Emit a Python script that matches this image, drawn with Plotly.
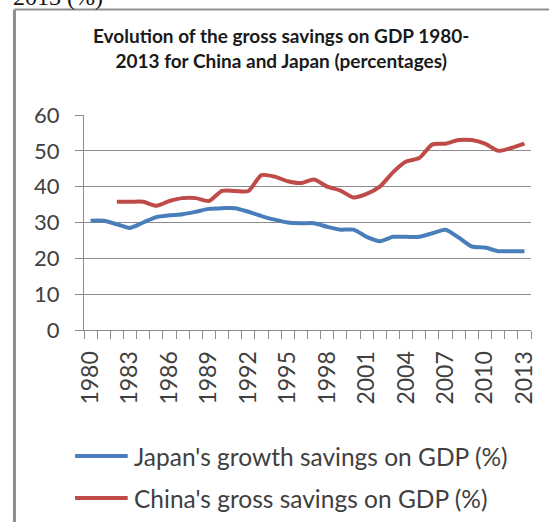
import plotly.graph_objects as go

years = list(range(1980, 2014))

japan_savings = [30.5, 30.5, 29.5, 28.5, 30, 31.5, 32, 32.3, 33, 33.8,
                 34, 34, 33, 31.8, 30.8, 30, 29.8, 29.8, 28.8, 28,
                 28, 26, 24.8, 26, 26, 26, 27, 28, 25.8, 23.3,
                 23, 22, 22, 22]

china_savings = [None, None, 35.8, 35.8, 35.8, 34.7, 36, 36.8, 36.8, 36,
                 38.8, 38.8, 38.8, 43.2, 42.8, 41.5, 41, 42, 40, 38.9,
                 37, 38, 40, 44, 47, 48, 51.8, 52, 53, 53,
                 52, 50, 50.8, 52]

tick_years = list(range(1980, 2014, 3))
boundaries = [y - 0.5 for y in range(1980, 2015)]

title_text = ("Evolution of the gross savings on GDP 1980-<br>"
              "2013 for China and Japan (percentages)")
legend_names = ["Japan's growth savings on GDP (%)",
                "China's gross savings on GDP (%)"]
colors = ['#4A7EBB', '#BE4B48']

# plot area in pixels: x 84..534, y 115..330
W, H = 549, 522
L, R, T, B = 84, 534, 115, 330


def px_x(p):
    return (p - L) / (R - L)


def px_y(p):
    return (B - p) / (B - T)


fig = go.Figure()

for name, vals, col in zip(legend_names, [japan_savings, china_savings], colors):
    fig.add_trace(go.Scatter(
        x=years, y=vals, mode='lines', name=name,
        line=dict(color=col, width=4, shape='spline', smoothing=0.7),
        showlegend=False
    ))

font_name = 'Lato, Open Sans, sans-serif'
grid_col = '#8c8c8c'

fig.update_layout(
    width=W, height=H,
    margin=dict(l=L, r=W - R, t=T, b=H - B),
    plot_bgcolor='white', paper_bgcolor='white',
    font=dict(family=font_name, color='#404040'),
    xaxis=dict(
        range=[1979.5, 2013.5],
        tickvals=tick_years, ticktext=[str(y) for y in tick_years],
        tickangle=-90, ticks='', showgrid=False,
        showline=True, linecolor=grid_col, linewidth=1,
        zeroline=False, ticklabelstandoff=11,
        tickfont=dict(size=23, color='#404040'),
        minor=dict(tickvals=boundaries, ticks='outside', ticklen=8,
                   tickcolor=grid_col, showgrid=False)
    ),
    yaxis=dict(
        range=[0, 60], tickvals=[0, 10, 20, 30, 40, 50, 60],
        ticks='outside', ticklen=8, tickcolor=grid_col,
        showgrid=True, gridcolor=grid_col, gridwidth=1,
        showline=True, linecolor=grid_col, linewidth=1,
        zeroline=False, ticklabelstandoff=11,
        tickfont=dict(size=22, color='#404040')
    ),
)

# chart frame (top and left edges visible)
fig.add_shape(type='line', xref='paper', yref='paper',
              x0=px_x(14), x1=px_x(600), y0=px_y(9.5), y1=px_y(9.5),
              line=dict(color='#8f8f8f', width=2))
fig.add_shape(type='line', xref='paper', yref='paper',
              x0=px_x(14), x1=px_x(14), y0=px_y(9.5), y1=px_y(600),
              line=dict(color='#8f8f8f', width=3))

# text cut off from the surrounding document
fig.add_annotation(text='2013 (%)', xref='paper', yref='paper',
                   x=px_x(11), y=px_y(12), xanchor='left', yanchor='bottom',
                   showarrow=False,
                   font=dict(family='Liberation Serif, serif', size=24, color='#111111'))

fig.add_annotation(text=title_text, xref='paper', yref='paper',
                   x=px_x(282), y=px_y(47.5), xanchor='center', yanchor='middle',
                   showarrow=False,
                   font=dict(family='Lato, sans-serif', size=19, color='#1a1a1a', weight='bold'))

# legend drawn below the axis
for i, (name, col) in enumerate(zip(legend_names, colors)):
    ly = 456 + 42 * i
    fig.add_shape(type='line', xref='paper', yref='paper',
                  x0=px_x(75), x1=px_x(128), y0=px_y(ly), y1=px_y(ly),
                  line=dict(color=col, width=4))
    fig.add_annotation(text=name, xref='paper', yref='paper',
                       x=px_x(132), y=px_y(ly), xanchor='left', yanchor='middle',
                       showarrow=False,
                       font=dict(family=font_name, size=24.5, color='#404040'))

# drop the default body margin so the figure sits at the page corner
fig.write_html("out.html", config={'displayModeBar': False},
               post_script="document.body.style.margin='0';")
